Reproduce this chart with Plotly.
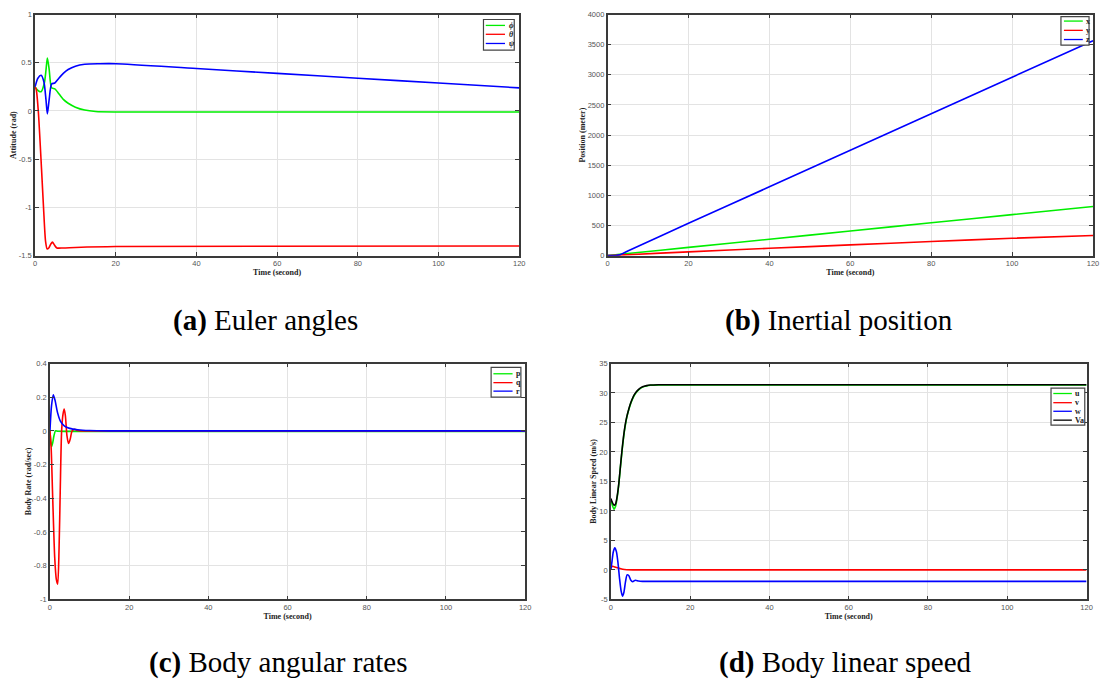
import plotly.graph_objects as go

W, H = 1101, 684

# ---------------- data ----------------
# (a) Euler angles
t_phi = [0, 0.8, 1.5, 2.3, 2.7, 3.05, 3.5, 4.1, 4.9, 5.7, 7, 8.2, 10, 12.3, 15, 20, 120]
phi = [0.25, 0.21, 0.2, 0.29, 0.42, 0.55, 0.43, 0.24, 0.23, 0.19, 0.12, 0.08, 0.04, 0.01, -0.005, -0.01, -0.01]
t_theta = [0, 0.3, 0.8, 1.6, 2.1, 2.6, 3.0, 3.4, 3.9, 4.3, 4.8, 5.4, 7, 10, 20, 120]
theta = [0.25, 0.22, 0.0, -0.6, -1.0, -1.35, -1.43, -1.42, -1.38, -1.36, -1.39, -1.42, -1.42, -1.415, -1.405, -1.40]
t_psi = [0, 0.7, 1.5, 2.2, 2.7, 3.05, 3.5, 4.1, 4.9, 5.7, 7, 8.2, 10, 12.3, 16, 20, 40, 60, 80, 100, 120]
psi = [0.25, 0.34, 0.37, 0.3, 0.12, -0.03, 0.12, 0.28, 0.29, 0.33, 0.39, 0.43, 0.465, 0.485, 0.49, 0.49, 0.44, 0.39, 0.34, 0.29, 0.24]

# (b) Inertial position
t_pos = [0, 2, 3, 4, 5, 20, 40, 60, 80, 100, 120]
x_pos = [0, 14, 21, 28, 35, 137, 272, 408, 545, 680, 815]
y_pos = [0, 6, 9, 12, 16, 62, 122, 178, 234, 288, 335]
z_pos = [0, 3, 14, 45, 78, 536, 1142, 1748, 2354, 2960, 3566]

# (c) Body angular rates
t_p = [0, 0.2, 0.43, 0.7, 1.0, 1.4, 2.0, 5, 120]
p_rate = [0, -0.06, -0.092, -0.07, -0.03, 0.0, -0.002, -0.003, -0.003]
t_q = [0, 0.3, 0.7, 1.2, 1.6, 1.95, 2.3, 2.6, 2.95, 3.3, 3.6, 3.9, 4.3, 4.7, 5.1, 5.6, 6.2, 7, 8, 120]
q_rate = [0, -0.1, -0.4, -0.75, -0.88, -0.91, -0.7, -0.35, 0.0, 0.1, 0.13, 0.09, -0.03, -0.075, -0.05, 0.0, 0.01, 0.002, 0, 0]
t_r = [0, 0.4, 0.85, 1.3, 1.9, 2.6, 3.6, 5, 7, 10, 15, 120]
r_rate = [0, 0.15, 0.215, 0.18, 0.11, 0.06, 0.03, 0.015, 0.007, 0.002, 0, 0]

# (d) Body linear speed
t_u = [0, 0.4, 0.8, 1.2, 1.6, 2.0, 2.4, 2.8, 3.2, 3.6, 4.0, 4.5, 5.0, 6.0, 7.0, 8.0, 9, 10, 12, 20, 120]
u_spd = [12, 10.9, 10.3, 10.8, 12.3, 14.5, 17.3, 20.0, 22.4, 24.3, 25.8, 27.1, 28.2, 29.7, 30.5, 31.0, 31.2, 31.3, 31.35, 31.35, 31.35]
t_v = [0, 0.4, 1, 2, 3, 4, 6, 120]
v_spd = [0.3, 0.6, 0.5, 0.3, 0.1, 0.02, 0, 0]
t_w = [0, 0.3, 0.6, 1.0, 1.4, 1.8, 2.2, 2.6, 2.95, 3.3, 3.7, 4.1, 4.5, 5.0, 5.5, 6.2, 7, 8, 120]
w_spd = [0, 1.5, 3.0, 3.75, 3.1, 1.2, -1.5, -3.6, -4.45, -3.8, -2.0, -0.85, -0.95, -1.7, -2.0, -1.75, -1.9, -1.95, -1.95]
t_va = t_u
va_spd = [12.1, 11.4, 10.95, 11.2, 12.5, 14.6, 17.4, 20.2, 22.6, 24.5, 25.9, 27.2, 28.3, 29.8, 30.6, 31.05, 31.25, 31.35, 31.4, 31.4, 31.4]

x_ticks = [0, 20, 40, 60, 80, 100, 120]
x_ticktext = ["0", "20", "40", "60", "80", "100", "120"]
ya_ticks = [-1.5, -1, -0.5, 0, 0.5, 1]
ya_text = ["-1.5", "-1", "-0.5", "0", "0.5", "1"]
yb_ticks = [0, 500, 1000, 1500, 2000, 2500, 3000, 3500, 4000]
yb_text = ["0", "500", "1000", "1500", "2000", "2500", "3000", "3500", "4000"]
yc_ticks = [-1, -0.8, -0.6, -0.4, -0.2, 0, 0.2, 0.4]
yc_text = ["-1", "-0.8", "-0.6", "-0.4", "-0.2", "0", "0.2", "0.4"]
yd_ticks = [-5, 0, 5, 10, 15, 20, 25, 30, 35]
yd_text = ["-5", "0", "5", "10", "15", "20", "25", "30", "35"]

GREEN, RED, BLUE, BLACK = "#00ee00", "#ff0000", "#0000ff", "#000000"

# ---------------- figure ----------------
def px(x):
    return x / W

def py(y):
    return 1 - y / H

fig = go.Figure()

def line(t, v, color, xa, ya, name):
    fig.add_trace(go.Scatter(x=t, y=v, mode="lines", name=name, showlegend=False,
                             line=dict(color=color, width=1.6, shape="spline", smoothing=0.7),
                             xaxis=xa, yaxis=ya))

line(t_phi, phi, GREEN, "x", "y", "φ")
line(t_theta, theta, RED, "x", "y", "θ")
line(t_psi, psi, BLUE, "x", "y", "ψ")
line(t_pos, x_pos, GREEN, "x2", "y2", "x")
line(t_pos, y_pos, RED, "x2", "y2", "y")
line(t_pos, z_pos, BLUE, "x2", "y2", "z")
line(t_p, p_rate, GREEN, "x3", "y3", "p")
line(t_q, q_rate, RED, "x3", "y3", "q")
line(t_r, r_rate, BLUE, "x3", "y3", "r")
line(t_u, u_spd, GREEN, "x4", "y4", "u")
line(t_v, v_spd, RED, "x4", "y4", "v")
line(t_w, w_spd, BLUE, "x4", "y4", "w")
line(t_va, va_spd, BLACK, "x4", "y4", "Va")

tick_font = dict(family="Liberation Sans, Arial, sans-serif", size=7.5, color="#555555")
title_font = dict(family="Liberation Serif, Times New Roman, serif", size=8, color="#222222")

def axis_common():
    return dict(showline=True, mirror="ticks", linecolor="#3a3a3a", linewidth=1.5,
                ticks="inside", ticklen=4, tickwidth=1, tickcolor="#3a3a3a",
                showgrid=True, gridcolor="#e3e3e3", gridwidth=1, zeroline=False,
                tickfont=tick_font)

panels = {
    "": dict(dom_x=(33.3, 521), dom_y=(10.7, 255), yr=[-1.5, 1], yt=ya_ticks, ytt=ya_text, ytitle="Attitude (rad)"),
    "2": dict(dom_x=(610, 1099), dom_y=(10.7, 255), yr=[0, 4000], yt=yb_ticks, ytt=yb_text, ytitle="Position (meter)"),
    "3": dict(dom_x=(48.3, 527), dom_y=(364.3, 603.3), yr=[-1, 0.4], yt=yc_ticks, ytt=yc_text, ytitle="Body Rate (rad/sec)"),
    "4": dict(dom_x=(613.3, 1092.5), dom_y=(364.3, 603.3), yr=[-5, 35], yt=yd_ticks, ytt=yd_text, ytitle="Body Linear Speed (m/s)"),
}

layout = {}
for k, p in panels.items():
    xa = axis_common()
    xa.update(domain=[px(p["dom_x"][0]), px(p["dom_x"][1])], range=[0, 120],
              tickvals=x_ticks, ticktext=x_ticktext, anchor="y" + k,
              title=dict(text="<b>Time (second)</b>", font=title_font, standoff=2))
    ya = axis_common()
    ya.update(domain=[py(p["dom_y"][1]), py(p["dom_y"][0])], range=p["yr"],
              tickvals=p["yt"], ticktext=p["ytt"], anchor="x" + k,
              title=dict(text="<b>" + p["ytitle"] + "</b>", font=title_font, standoff=1))
    layout["xaxis" + k] = xa
    layout["yaxis" + k] = ya

fig.update_layout(**layout)

# ---------------- legends (boxed, MATLAB style) ----------------
legends = [
    dict(box=(485, 15.7, 516, 46.7), lx=(487.3, 506.7), ys=[21.7, 30.7, 40.0],
         names=["<i>ϕ</i>", "<i>θ</i>", "<i>ψ</i>"], colors=[GREEN, RED, BLUE]),
    dict(box=(1066.7, 12.7, 1095, 41.7), lx=(1069.7, 1088.7), ys=[17.3, 26.7, 36.0],
         names=["x", "y", "z"], colors=[GREEN, RED, BLUE]),
    dict(box=(492.7, 368.3, 522.7, 398.3), lx=(495, 514.3), ys=[374.7, 383.7, 392.3],
         names=["p", "q", "r"], colors=[GREEN, RED, BLUE]),
    dict(box=(1056.7, 389.3, 1090.7, 426.7), lx=(1059, 1077.7), ys=[394.7, 404.0, 412.7, 421.7],
         names=["u", "v", "w", "Va"], colors=[GREEN, RED, BLUE, BLACK]),
]
shapes = []
annots = []
for lg in legends:
    x0, y0, x1, y1 = lg["box"]
    shapes.append(dict(type="rect", xref="paper", yref="paper", x0=px(x0), x1=px(x1), y0=py(y1), y1=py(y0),
                       line=dict(color="#444444", width=1.2), fillcolor="white", layer="above"))
    for nm, c, yy in zip(lg["names"], lg["colors"], lg["ys"]):
        shapes.append(dict(type="line", xref="paper", yref="paper", x0=px(lg["lx"][0]), x1=px(lg["lx"][1]),
                           y0=py(yy), y1=py(yy), line=dict(color=c, width=1.3), layer="above"))
        annots.append(dict(xref="paper", yref="paper", x=px(lg["lx"][1] + 1.5), y=py(yy), text="<b>" + nm + "</b>",
                           showarrow=False, xanchor="left", yanchor="middle",
                           font=dict(family="Liberation Serif, serif", size=8, color="#222222")))

captions = [
    (265, 321, "<b>(a)</b> Euler angles"),
    (843, 321, "<b>(b)</b> Inertial position"),
    (278, 667, "<b>(c)</b> Body angular rates"),
    (850, 667, "<b>(d)</b> Body linear speed"),
]
for cx, cy, txt in captions:
    annots.append(dict(xref="paper", yref="paper", x=px(cx), y=py(cy), text=txt, showarrow=False,
                       xanchor="center", yanchor="middle",
                       font=dict(family="Liberation Serif, Times New Roman, serif", size=29, color="#000000")))

fig.update_layout(shapes=shapes, annotations=annots, width=W, height=H,
                  margin=dict(l=0, r=0, t=0, b=0), paper_bgcolor="white", plot_bgcolor="white",
                  showlegend=False)

fig.write_html("out.html")
